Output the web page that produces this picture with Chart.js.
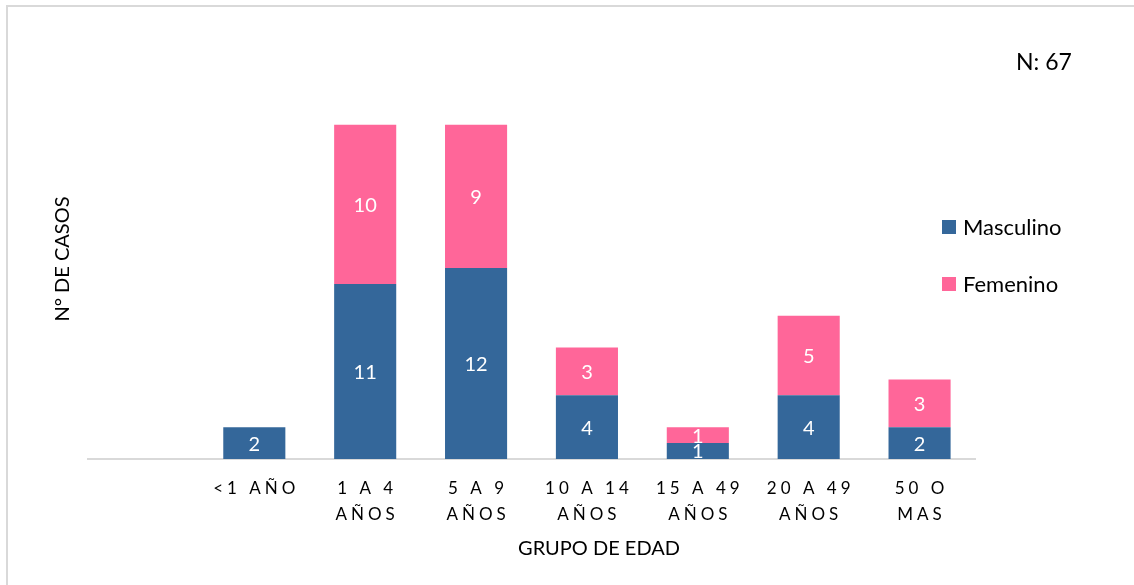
<!DOCTYPE html>
<html>
<head>
<meta charset="utf-8">
<script src="https://cdn.jsdelivr.net/npm/chart.js@4.4.0/dist/chart.umd.min.js"></script>
<style>
  body { margin: 0; background: #fff; }
  #wrap { width: 1134px; height: 585px; }
</style>
</head>
<body>
<div id="wrap"><canvas id="grafico"></canvas></div>
<script>
// Datos del gráfico (primer hueco vacío como en el original)
var grupos = ['', '<1 AÑO', '1 A 4 AÑOS', '5 A 9 AÑOS', '10 A 14 AÑOS', '15 A 49 AÑOS', '20 A 49 AÑOS', '50 O MAS'];
var etiquetasEje = [[''], ['<1 AÑO'], ['1 A 4', 'AÑOS'], ['5 A 9', 'AÑOS'], ['10 A 14', 'AÑOS'], ['15 A 49', 'AÑOS'], ['20 A 49', 'AÑOS'], ['50 O', 'MAS']];
var masculino = [null, 2, 11, 12, 4, 1, 4, 2];
var femenino = [null, 0, 10, 9, 3, 1, 5, 3];
var totalCasos = 'N: 67';

var fuente = "Lato, 'Open Sans', sans-serif";

// Plugin para marco, etiquetas, leyenda y títulos
var extras = {
  id: 'extras',
  beforeDraw: function (chart) {
    var ctx = chart.ctx;
    ctx.save();
    ctx.fillStyle = '#fff';
    ctx.fillRect(0, 0, chart.width, chart.height);
    ctx.strokeStyle = '#d9d9d9';
    ctx.lineWidth = 2;
    ctx.strokeRect(7, 6, chart.width + 10, chart.height + 10);
    ctx.restore();
  },
  afterDatasetsDraw: function (chart) {
    var ctx = chart.ctx;
    var x = chart.scales.x;
    ctx.save();
    // valores dentro de las barras
    ctx.fillStyle = '#fff';
    ctx.font = '20px ' + fuente;
    ctx.textAlign = 'center';
    ctx.textBaseline = 'middle';
    chart.data.datasets.forEach(function (ds, i) {
      chart.getDatasetMeta(i).data.forEach(function (bar, j) {
        var v = ds.data[j];
        if (!v) return;
        ctx.fillText(String(v), bar.x, (bar.y + bar.base) / 2 + 1);
      });
    });
    // etiquetas del eje X con espaciado
    ctx.fillStyle = '#000';
    ctx.font = '17px ' + fuente;
    ctx.letterSpacing = '4px';
    etiquetasEje.forEach(function (lineas, i) {
      var px = x.getPixelForTick(i) + 2;
      lineas.forEach(function (t, k) {
        ctx.fillText(t, px, 489 + k * 26);
      });
    });
    ctx.letterSpacing = '0px';
    // títulos de ejes
    ctx.font = '20px ' + fuente;
    ctx.fillText('GRUPO DE EDAD', 599, 549);
    ctx.save();
    ctx.translate(63, 259);
    ctx.rotate(-Math.PI / 2);
    ctx.fillText('N° DE CASOS', 0, 0);
    ctx.restore();
    // N total
    ctx.font = '23px ' + fuente;
    ctx.fillText(totalCasos, 1044, 63);
    // leyenda
    ctx.textAlign = 'left';
    ctx.font = '22px ' + fuente;
    chart.data.datasets.forEach(function (ds, i) {
      var y = 227 + i * 57;
      ctx.fillStyle = ds.backgroundColor;
      ctx.fillRect(942, y - 7, 14, 14);
      ctx.fillStyle = '#000';
      ctx.fillText(ds.label, 963, y + 1);
    });
    ctx.restore();
  }
};

new Chart(document.getElementById('grafico'), {
  type: 'bar',
  data: {
    labels: grupos,
    datasets: [
      { label: 'Masculino', data: masculino, backgroundColor: '#34679a' },
      { label: 'Femenino', data: femenino, backgroundColor: '#ff6699' }
    ]
  },
  options: {
    responsive: true,
    maintainAspectRatio: false,
    animation: false,
    events: [],
    layout: { padding: { left: 88, right: 159, top: 61, bottom: 126 } },
    plugins: { legend: { display: false }, tooltip: { enabled: false } },
    datasets: { bar: { categoryPercentage: 1, barPercentage: 0.56 } },
    scales: {
      x: {
        stacked: true,
        grid: { display: false },
        border: { display: true, color: '#d9d9d9', width: 2 },
        ticks: { display: false },
        afterFit: function (s) { s.height = 0; }
      },
      y: {
        stacked: true,
        display: false,
        min: 0,
        max: 25
      }
    }
  },
  plugins: [extras]
});
</script>
</body>
</html>
